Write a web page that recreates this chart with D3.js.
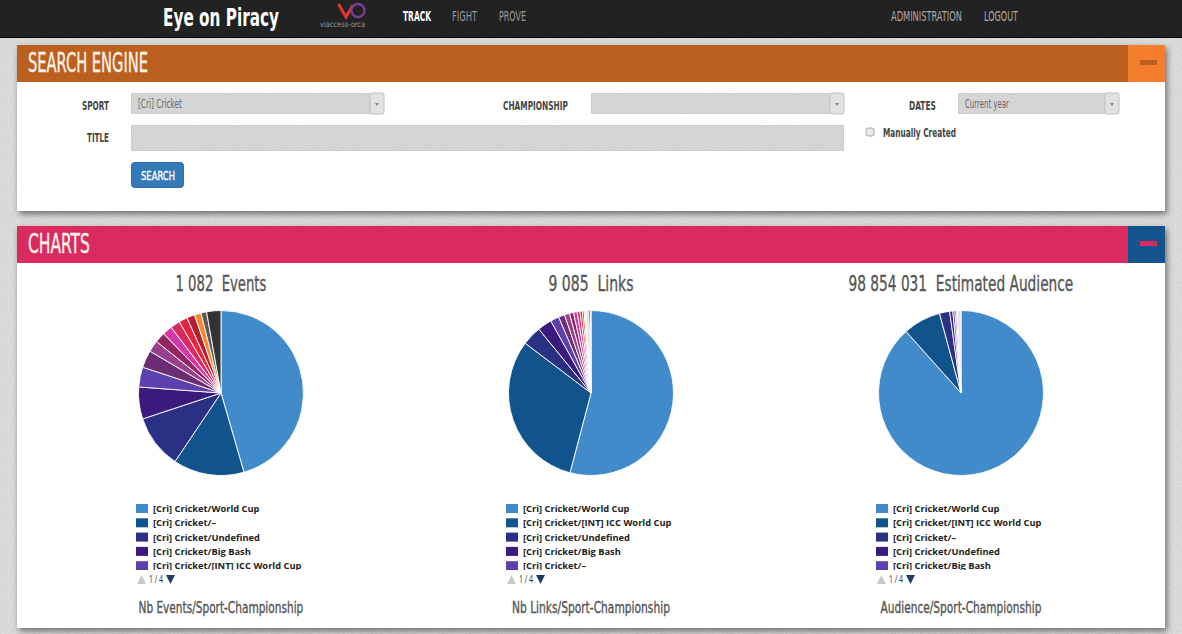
<!DOCTYPE html>
<html lang="en">
<head>
    <meta charset="utf-8">
    <title>Eye on Piracy</title>
    <script src="https://d3js.org/d3.v7.min.js"></script>
    <style>
        html, body { margin: 0; padding: 0; background: #dcdcdc; overflow: hidden; }
        svg { display: block; }
        text { font-family: "Liberation Sans Narrow", "DejaVu Sans Condensed", "Liberation Sans", sans-serif; white-space: pre; }
        .legend text { font-family: "Open Sans", "Liberation Sans", sans-serif; font-weight: 700; font-size: 9.3px; fill: #222; }
    </style>
</head>
<body>
    <div id="page"></div>
    <script>
        const width = 1182;
        const height = 634;

        // values, in percent of each pie
        const eventsValues = [45.5, 13.9, 10.5, 6.25, 3.9, 3.4, 2.25, 2.05, 1.9, 1.9, 1.67, 1.56, 1.3, 1.1, 2.8];
        const linksValues = [54.1, 31.2, 3.8, 2.8, 1.7, 1.2, 1.0, 0.8, 0.7, 0.55, 0.45, 0.35, 0.2, 0.2, 0.55, 0.3, 0.1];
        const audienceValues = [88.4, 7.4, 2.0, 0.6, 0.4, 0.3, 0.2, 0.7];

        const eventsLegend = ["World Cup", "–", "Undefined", "Big Bash", "[INT] ICC World Cup"];
        const linksLegend = ["World Cup", "[INT] ICC World Cup", "Undefined", "Big Bash", "–"];
        const audienceLegend = ["World Cup", "[INT] ICC World Cup", "–", "Undefined", "Big Bash"];

        const totals = ["1 082  Events", "9 085  Links", "98 854 031  Estimated Audience"];
        const footers = ["Nb Events/Sport-Championship", "Nb Links/Sport-Championship", "Audience/Sport-Championship"];

        const palette = ["#428bca", "#11548d", "#2a3185", "#3a1a7c", "#5c40ad", "#6c2d74", "#98408c", "#922563",
            "#d23aa8", "#d92b5e", "#e8233b", "#b51f35", "#f58a2e", "#5a5a5a", "#333333"];
        const linksPalette = ["#428bca", "#11548d", "#2a3185", "#3a1a7c", "#5c40ad", "#6c2d74", "#98408c", "#922563",
            "#d23aa8", "#d92b5e", "#e8233b", "#b51f35", "#f58a2e", "#e8a0a0", "#e9d9c8", "#222222", "#777777"];
        const audiencePalette = ["#428bca", "#11548d", "#2a3185", "#3a1a7c", "#5c40ad", "#6c2d74", "#98408c", "#e6e2ee"];

        const svg = d3.select("#page").append("svg")
            .attr("width", width)
            .attr("height", height)
            .attr("viewBox", [0, 0, width, height]);

        const defs = svg.append("defs");

        // grainy paper texture used on the page and the form fields
        const grain = defs.append("filter").attr("id", "grain")
            .attr("x", 0).attr("y", 0).attr("width", "100%").attr("height", "100%");
        grain.append("feTurbulence").attr("type", "fractalNoise").attr("baseFrequency", 0.9).attr("numOctaves", 2).attr("result", "n");
        grain.append("feColorMatrix").attr("in", "n").attr("type", "matrix")
            .attr("values", "0 0 0 0 0.5  0 0 0 0 0.5  0 0 0 0 0.5  0.9 0 0 0 -0.3").attr("result", "g");
        grain.append("feComposite").attr("in", "g").attr("in2", "SourceGraphic").attr("operator", "in").attr("result", "t");
        grain.append("feMerge").selectAll("feMergeNode").data(["SourceGraphic", "t"]).enter()
            .append("feMergeNode").attr("in", d => d);

        const shadow = defs.append("filter").attr("id", "shadow")
            .attr("x", "-3%").attr("y", "-5%").attr("width", "106%").attr("height", "112%");
        shadow.append("feDropShadow").attr("dx", 2).attr("dy", 3).attr("stdDeviation", 3)
            .attr("flood-color", "#000").attr("flood-opacity", 0.5);

        // helper: condensed text squeezed to the measured width with a horizontal scale
        // weight: 0 regular, 1 thickened with a thin stroke, 2 bold
        function label(parent, txt, x, y, w, size, fill, weight) {
            const t = parent.append("text")
                .attr("font-size", size)
                .attr("font-weight", weight === 2 ? 700 : 400)
                .attr("fill", fill)
                .text(txt);
            if (weight === 1) t.attr("stroke", fill).attr("stroke-width", 0.35);
            const sx = w / t.node().getComputedTextLength();
            t.attr("transform", `translate(${x}, ${y}) scale(${sx}, 1)`);
            return t;
        }

        // background and top bar
        svg.append("rect").attr("width", width).attr("height", height).attr("fill", "#dedede").attr("filter", "url(#grain)");
        svg.append("rect").attr("width", width).attr("height", 37).attr("fill", "#222222");
        svg.append("rect").attr("y", 37).attr("width", width).attr("height", 1).attr("fill", "#000");

        label(svg, "Eye on Piracy", 163, 26, 116, 25, "#fff", 2);
        // viaccess-orca logo
        svg.append("path").attr("d", "M338.5 4 L346 17 L353 5").attr("fill", "none").attr("stroke", "#e6352f").attr("stroke-width", 3);
        svg.append("circle").attr("cx", 358).attr("cy", 10.5).attr("r", 6.5).attr("fill", "none").attr("stroke", "#7b3a96").attr("stroke-width", 2.5);
        label(svg, "viaccess-orca", 320, 27, 45, 8, "#9a9a9a", 0);

        label(svg, "TRACK", 403, 21, 28, 14, "#fff", 2);
        label(svg, "FIGHT", 452, 21, 25, 14, "#999", 0);
        label(svg, "PROVE", 499, 21, 27, 14, "#999", 0);
        label(svg, "ADMINISTRATION", 891, 21, 71, 14, "#aaa", 0);
        label(svg, "LOGOUT", 984, 21, 34, 14, "#aaa", 0);

        // panel with coloured header and collapse button
        function panel(y, h, title, titleW, head, btn, bar) {
            svg.append("rect").attr("x", 17).attr("y", y).attr("width", 1148).attr("height", h)
                .attr("fill", "#fff").attr("filter", "url(#shadow)");
            svg.append("rect").attr("x", 17).attr("y", y).attr("width", 1148).attr("height", 37).attr("fill", head);
            svg.append("rect").attr("x", 1128).attr("y", y).attr("width", 37).attr("height", 37).attr("fill", btn);
            svg.append("rect").attr("x", 1140).attr("y", y + 15).attr("width", 17).attr("height", 5).attr("fill", bar);
            label(svg, title, 28, y + 27, titleW, 26, "#fdf3ea", 1);
        }
        panel(45, 166, "SEARCH ENGINE", 120, "#bb601e", "#f57e2e", "#bb601e");
        panel(226, 402, "CHARTS", 62, "#d92b5f", "#13548f", "#d92b5f");

        // search form
        function field(x, y, w, h, txt, txtW, hasArrow) {
            svg.append("rect").attr("x", x).attr("y", y).attr("width", w).attr("height", h).attr("rx", 3)
                .attr("fill", "#d9d9d9").attr("stroke", "#c6c6c6").attr("filter", "url(#grain)");
            if (hasArrow) {
                svg.append("rect").attr("x", x + w - 14).attr("y", y).attr("width", 14).attr("height", h).attr("rx", 2)
                    .attr("fill", "#e2e2e2").attr("stroke", "#c0c0c0");
                svg.append("path").attr("d", `M${x + w - 9} ${y + 10} h4 l-2 3 z`).attr("fill", "#888");
            }
            if (txt) label(svg, txt, x + 7, y + 15, txtW, 13, "#666", 0);
        }
        label(svg, "SPORT", 82, 110, 27, 12, "#444", 2);
        label(svg, "CHAMPIONSHIP", 503, 110, 65, 12, "#444", 2);
        label(svg, "DATES", 909, 110, 27, 12, "#444", 2);
        label(svg, "TITLE", 87, 142, 22, 12, "#444", 2);
        field(131, 93, 253, 21, "[Cri] Cricket", 44, true);
        field(591, 93, 253, 21, "", 0, true);
        field(958, 93, 161, 21, "Current year", 44, true);
        field(131, 125, 713, 26, "", 0, false);
        svg.append("rect").attr("x", 866).attr("y", 128).attr("width", 8).attr("height", 8).attr("rx", 2)
            .attr("fill", "#e8e8e8").attr("stroke", "#aaa");
        label(svg, "Manually Created", 883, 137, 73, 12, "#444", 2);
        svg.append("rect").attr("x", 131.5).attr("y", 162.5).attr("width", 52).attr("height", 25).attr("rx", 3).attr("fill", "#337ab7").attr("stroke", "#2e6da4");
        label(svg, "SEARCH", 141, 180, 34, 13, "#fff", 1);

        // pies
        const pie = d3.pie().sort(null).value(d => d);
        const arc = d3.arc().innerRadius(0).outerRadius(82.5);

        const titleWidths = [91, 85, 225];
        const footerWidths = [165, 158, 161];

        function drawChart(cx, i, values, colors, legend) {
            const color = d3.scaleOrdinal().domain(d3.range(values.length)).range(colors);

            label(svg, totals[i], cx - titleWidths[i] / 2, 291, titleWidths[i], 22, "#555", 1);

            svg.append("g")
                .attr("transform", `translate(${cx}, 393)`)
                .selectAll("path")
                .data(pie(values))
                .enter()
                .append("path")
                    .attr("d", arc)
                    .attr("fill", (d, j) => color(j))
                    .attr("stroke", "#fff")
                    .attr("stroke-width", 0.9);

            // legend, fifth row is cut off by its box
            const clipId = "clip" + i;
            defs.append("clipPath").attr("id", clipId)
                .append("rect").attr("x", cx - 90).attr("y", 500).attr("width", 260).attr("height", 70);
            const rows = svg.append("g").attr("class", "legend").attr("clip-path", `url(#${clipId})`)
                .selectAll("g")
                .data(legend)
                .enter()
                .append("g")
                    .attr("transform", (d, j) => `translate(${cx - 85}, ${504 + j * 14.3})`);
            rows.append("rect").attr("width", 12).attr("height", 9).attr("fill", (d, j) => color(j));
            rows.append("text").attr("x", 17).attr("y", 8).text(d => "[Cri] Cricket/" + d);

            // pager
            svg.append("path").attr("d", `M${cx - 84} 584 h9 l-4.5 -9 z`).attr("fill", "#c9c9c9");
            label(svg, "1 / 4", cx - 72, 583, 14, 10, "#333", 0).style("font-family", "'Open Sans', sans-serif");
            svg.append("path").attr("d", `M${cx - 55} 575 h9 l-4.5 9 z`).attr("fill", "#1f3d63");

            label(svg, footers[i], cx - footerWidths[i] / 2, 613, footerWidths[i], 16, "#555", 1);
        }

        drawChart(221, 0, eventsValues, palette, eventsLegend);
        drawChart(591, 1, linksValues, linksPalette, linksLegend);
        drawChart(961, 2, audienceValues, audiencePalette, audienceLegend);
    </script>
</body>
</html>
